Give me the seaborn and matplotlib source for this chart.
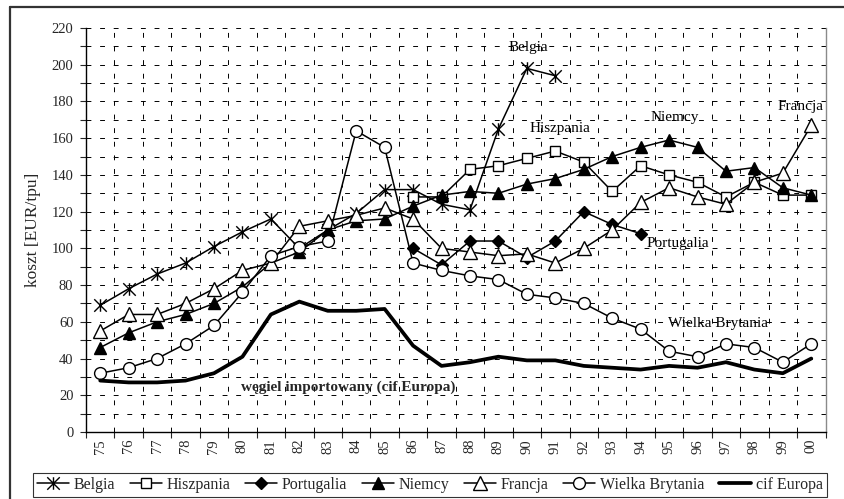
import numpy as np
import pandas as pd
import matplotlib
matplotlib.use("Agg")
import matplotlib.pyplot as plt
from matplotlib.lines import Line2D
from matplotlib.path import Path
import seaborn as sns

# lata (os X) - etykiety kategorii
years = ["75", "76", "77", "78", "79", "80", "81", "82", "83", "84", "85", "86", "87",
         "88", "89", "90", "91", "92", "93", "94", "95", "96", "97", "98", "99", "00"]

nan = np.nan

# koszt [EUR/tpu]
belgia = [69, 78, 86, 92, 101, 109, 116, 100, 110, 119, 132, 132, 124,
          121, 165, 198, 194, nan, nan, nan, nan, nan, nan, nan, nan, nan]
hiszpania = [nan, nan, nan, nan, nan, nan, nan, nan, nan, nan, nan, 128, 128,
             143, 145, 149, 153, 147, 131, 145, 140, 136, 128, 136, 129, 129]
portugalia = [nan, nan, nan, nan, nan, nan, nan, nan, nan, nan, nan, 100, 91,
              104, 104, 95, 104, 120, 113, 108, nan, nan, nan, nan, nan, nan]
niemcy = [46, 54, 60, 64, 70, 79, 92, 98, 110, 115, 116, 123, 129,
          131, 130, 135, 138, 143, 150, 155, 159, 155, 142, 144, 133, 129]
francja = [55, 64, 64, 70, 78, 88, 92, 112, 115, 118, 122, 116, 100,
           98, 96, 97, 92, 100, 110, 125, 133, 128, 124, 136, 141, 167]
wielka_brytania = [32, 35, 40, 48, 58, 76, 96, 101, 104, 164, 155, 92, 88,
                   85, 83, 75, 73, 70, 62, 56, 44, 41, 48, 46, 38, 48]
cif_europa = [28, 27, 27, 28, 32, 41, 64, 71, 66, 66, 67, 47, 36,
              38, 41, 39, 39, 36, 35, 34, 36, 35, 38, 34, 32, 40]

series = {
    "Belgia": belgia,
    "Hiszpania": hiszpania,
    "Portugalia": portugalia,
    "Niemcy": niemcy,
    "Francja": francja,
    "Wielka Brytania": wielka_brytania,
    "cif Europa": cif_europa,
}

# gwiazdka jak w Excelu: X z pionowa kreska
star = Path([(0, -1), (0, 1), (-1, -1), (1, 1), (-1, 1), (1, -1)],
            [Path.MOVETO, Path.LINETO, Path.MOVETO, Path.LINETO, Path.MOVETO, Path.LINETO])

# styl kazdej serii
styles = {
    "Belgia": dict(marker=star, ms=9, mew=1.0, mfc="none"),
    "Hiszpania": dict(marker="s", ms=6.5, mew=1.0, mfc="white"),
    "Portugalia": dict(marker="D", ms=6, mew=1.0, mfc="black"),
    "Niemcy": dict(marker="^", ms=8.5, mew=1.0, mfc="black"),
    "Francja": dict(marker="^", ms=9.5, mew=1.0, mfc="white"),
    "Wielka Brytania": dict(marker="o", ms=8.5, mew=1.0, mfc="white"),
    "cif Europa": dict(marker=None, lw=2.7),
}

sns.set_style("ticks")
plt.rcParams["font.family"] = ["Liberation Serif", "DejaVu Serif"]

fig = plt.figure(figsize=(8.45, 4.99), dpi=100)
ax = fig.add_axes([86 / 845, 1 - 432 / 499, (825.5 - 86) / 845, (432 - 28) / 499])

pos = np.arange(len(years))
for name, vals in series.items():
    df = pd.DataFrame({"poz": pos, "koszt": vals}).dropna()
    st = dict(styles[name])
    lw = st.pop("lw", 1.1)
    sns.lineplot(data=df, x="poz", y="koszt", ax=ax, color="black", lw=lw,
                 mec="black", label=name, zorder=3, **st)

# osie
ax.set_xlim(-0.5, len(years) - 0.5)
ax.set_ylim(0, 220)
ax.set_xticks(pos)
ax.set_xticklabels(years, rotation=90, fontsize=10.5)
ax.set_xticks(np.arange(len(years) + 1) - 0.5, minor=True)
ax.set_yticks(np.arange(0, 221, 20))
ax.set_yticks(np.arange(0, 221, 10), minor=True)
ax.tick_params(axis="y", labelsize=10.5, direction="out", length=4, width=0.8, pad=5)
ax.tick_params(axis="y", which="minor", direction="out", length=4, width=0.8)
ax.tick_params(axis="x", which="major", length=0, pad=5)
ax.tick_params(axis="x", which="minor", direction="out", length=4, width=0.8)
ax.set_xlabel("")
ax.set_ylabel("koszt [EUR/tpu]", fontsize=12.5, labelpad=8)

dash = (0, (5, 9))
ax.grid(False)
ax.grid(True, axis="y", which="both", color="black", lw=0.7, linestyle=dash)
ax.grid(True, axis="x", which="minor", color="black", lw=0.7, linestyle=dash)
ax.set_axisbelow(True)

for s in ["left", "bottom"]:
    ax.spines[s].set_color("black")
    ax.spines[s].set_linewidth(1.0)
ax.spines["right"].set_visible(True)
ax.spines["right"].set_color("#8a8a8a")
ax.spines["right"].set_linewidth(1.0)
ax.spines["top"].set_visible(False)

# podpisy serii
tkw = dict(fontsize=11, va="center", color="black", zorder=4)
ax.text(15.05, 209.5, "Belgia", ha="center", **tkw)
ax.text(15.1, 165.5, "Hiszpania", ha="left", **tkw)
ax.text(20.2, 171.5, "Niemcy", ha="center", **tkw)
ax.text(24.62, 177, "Francja", ha="center", **tkw)
ax.text(19.2, 102.5, "Portugalia", ha="left", **tkw)
ax.text(19.95, 59, "Wielka Brytania", ha="left", **tkw)
ax.text(4.95, 24.5, "węgiel importowany (cif Europa)", ha="left",
        fontsize=11, fontweight="bold", va="center", zorder=4)

# legenda pod wykresem
handles, labels = ax.get_legend_handles_labels()
ax.get_legend().remove()
leg = fig.legend(handles, labels, loc="lower left",
                 bbox_to_anchor=(33 / 845, 1 - 497 / 499, (827 - 33) / 845, 25 / 499),
                 mode="expand", ncol=7, frameon=True, fancybox=False,
                 edgecolor="black", borderaxespad=0, handlelength=2.0,
                 handletextpad=0.3, columnspacing=0.6, fontsize=11.5,
                 borderpad=0.25)
leg.get_frame().set_linewidth(0.8)

# ramka calego rysunku (lewa i gorna krawedz)
fig.add_artist(Line2D([10 / 845, 10 / 845], [0, 1 - 7 / 499], color="#333333",
                      lw=1.6, transform=fig.transFigure))
fig.add_artist(Line2D([10 / 845, 1], [1 - 7 / 499, 1 - 7 / 499], color="#333333",
                      lw=1.6, transform=fig.transFigure))

fig.savefig("out.png", dpi=100)
